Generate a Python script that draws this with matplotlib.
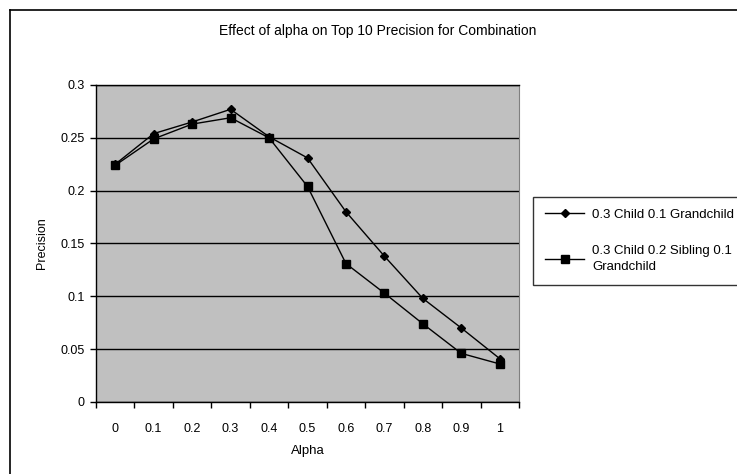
import matplotlib
matplotlib.use("Agg")
import matplotlib.pyplot as plt
from matplotlib.lines import Line2D
from matplotlib.ticker import FixedLocator

plt.rcParams["font.family"] = ["Liberation Sans", "DejaVu Sans"]

alpha_labels = ["0", "0.1", "0.2", "0.3", "0.4", "0.5", "0.6", "0.7", "0.8", "0.9", "1"]
child_grandchild = [0.225, 0.254, 0.265, 0.277, 0.251, 0.231, 0.180, 0.138, 0.098, 0.070, 0.041]
child_sibling_grandchild = [0.224, 0.249, 0.263, 0.269, 0.250, 0.204, 0.131, 0.103, 0.074, 0.046, 0.036]
precision_ticks = [0, 0.05, 0.1, 0.15, 0.2, 0.25, 0.3]
precision_labels = ["0", "0.05", "0.1", "0.15", "0.2", "0.25", "0.3"]
series_names = ["0.3 Child 0.1 Grandchild", "0.3 Child 0.2 Sibling 0.1\nGrandchild"]

W, H = 737, 474
fig = plt.figure(figsize=(W / 100, H / 100), dpi=100)
ax = fig.add_axes([96 / W, 1 - 402 / H, (519 - 96) / W, (402 - 85) / H])
ax.set_facecolor("#c0c0c0")

x = list(range(len(alpha_labels)))
ax.plot(x, child_grandchild, color="black", lw=1.0, marker="D", ms=4.5,
        label=series_names[0])
ax.plot(x, child_sibling_grandchild, color="black", lw=1.0, marker="s", ms=5.5,
        label=series_names[1])

ax.set_xlim(-0.5, len(alpha_labels) - 0.5)
ax.set_ylim(0, 0.3)
ax.set_yticks(precision_ticks)
ax.set_yticklabels(precision_labels)
ax.grid(axis="y", color="black", lw=1.0)
ax.set_axisbelow(True)

# category axis: labels centred, tick marks between categories
ax.set_xticks(x)
ax.set_xticklabels(alpha_labels)
ax.xaxis.set_minor_locator(FixedLocator([i - 0.5 for i in range(len(alpha_labels) + 1)]))
ax.tick_params(axis="x", which="major", length=0, pad=15, labelsize=9)
ax.tick_params(axis="x", which="minor", length=4, width=1, direction="out")
ax.tick_params(axis="y", length=4, width=1, direction="out", pad=4, labelsize=9)

for side in ["left", "bottom", "top"]:
    ax.spines[side].set_color("black")
    ax.spines[side].set_linewidth(1.0)
ax.spines["right"].set_color("#808080")
ax.spines["right"].set_linewidth(0.8)

ax.set_xlabel("Alpha", fontsize=9.5, labelpad=7)
ax.set_ylabel("Precision", fontsize=9, labelpad=9)
fig.text(378 / W, 1 - 31 / H, "Effect of alpha on Top 10 Precision for Combination",
         ha="center", va="center", fontsize=10)

leg = ax.legend(loc="upper left", bbox_to_anchor=(533 / W, 1 - 197 / H),
                bbox_transform=fig.transFigure, fontsize=9.5, frameon=True,
                fancybox=False, edgecolor="black", handlelength=3.0,
                handletextpad=0.6, labelspacing=1.8, borderpad=0.9,
                borderaxespad=0)
leg.get_frame().set_linewidth(1.0)
for t in leg.get_texts():
    t.set_linespacing(1.5)

# chart area border (left and top edges)
fig.add_artist(Line2D([10 / W, 10 / W], [0, 1 - 10 / H], transform=fig.transFigure,
                      color="black", lw=1.2))
fig.add_artist(Line2D([10 / W, 1], [1 - 10 / H, 1 - 10 / H], transform=fig.transFigure,
                      color="black", lw=1.2))

fig.savefig("out.png", dpi=100)
